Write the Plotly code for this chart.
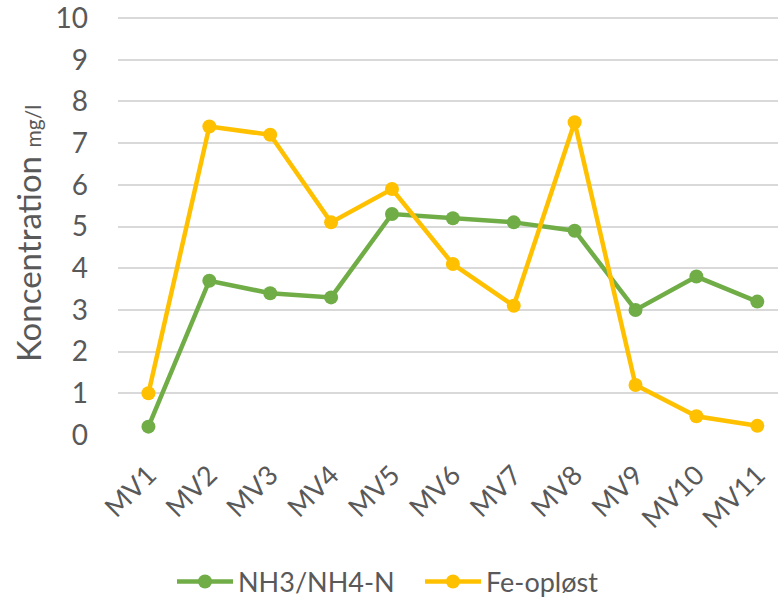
import plotly.graph_objects as go

categories = ["MV1", "MV2", "MV3", "MV4", "MV5", "MV6", "MV7", "MV8", "MV9", "MV10", "MV11"]
nh_values = [0.2, 3.7, 3.4, 3.3, 5.3, 5.2, 5.1, 4.9, 3.0, 3.8, 3.2]
fe_values = [1.0, 7.4, 7.2, 5.1, 5.9, 4.1, 3.1, 7.5, 1.2, 0.45, 0.22]
y_ticks = list(range(0, 11))

GREEN = "#70AD47"
YELLOW = "#FFC000"
TEXT = "#595959"
FONT = "Lato, Open Sans, sans-serif"

fig = go.Figure()
fig.add_trace(go.Scatter(
    x=categories, y=nh_values, name="NH3/NH4-N", mode="lines+markers",
    line=dict(color=GREEN, width=4.5), marker=dict(color=GREEN, size=14),
    cliponaxis=False,
))
fig.add_trace(go.Scatter(
    x=categories, y=fe_values, name="Fe-opløst", mode="lines+markers",
    line=dict(color=YELLOW, width=4.5), marker=dict(color=YELLOW, size=14),
    cliponaxis=False,
))

fig.update_layout(
    width=778, height=599,
    margin=dict(l=118, r=0, t=16, b=164, autoexpand=False),
    paper_bgcolor="white", plot_bgcolor="white",
    font=dict(family=FONT, color=TEXT, size=27),
    showlegend=True,
    legend=dict(
        orientation="h", xref="container", yref="container",
        x=172 / 778, y=1 - 582 / 599, xanchor="left", yanchor="middle",
        font=dict(size=27, color=TEXT), itemwidth=56,
        entrywidth=177, entrywidthmode="pixels",
    ),
    xaxis=dict(
        type="category", range=[-0.5, 10.34], tickangle=-45,
        showgrid=False, showline=False, zeroline=False, ticks="",
        tickfont=dict(size=27, color=TEXT), automargin=False,
        ticklabelstandoff=18, ticklabeloverflow="allow",
    ),
    yaxis=dict(
        range=[0, 10.05], tickvals=y_ticks,
        showgrid=True, gridcolor="#D9D9D9",
        gridwidth=1.5, zeroline=False, showline=False, ticks="",
        tickfont=dict(size=28, color=TEXT), ticklabelstandoff=29,
        ticklabeloverflow="allow", automargin=False,
    ),
)

fig.add_annotation(
    xref="paper", yref="paper", x=(28 - 118) / 660, y=(435 - 234) / 419,
    text="Koncentration <span style='font-size:21px'>mg/l</span>",
    textangle=-90, showarrow=False, xanchor="center", yanchor="middle",
    font=dict(size=33, color=TEXT, family=FONT),
)

fig.write_html(
    "out.html",
    config={"displayModeBar": False},
    post_script="document.body.style.margin='0';",
)
